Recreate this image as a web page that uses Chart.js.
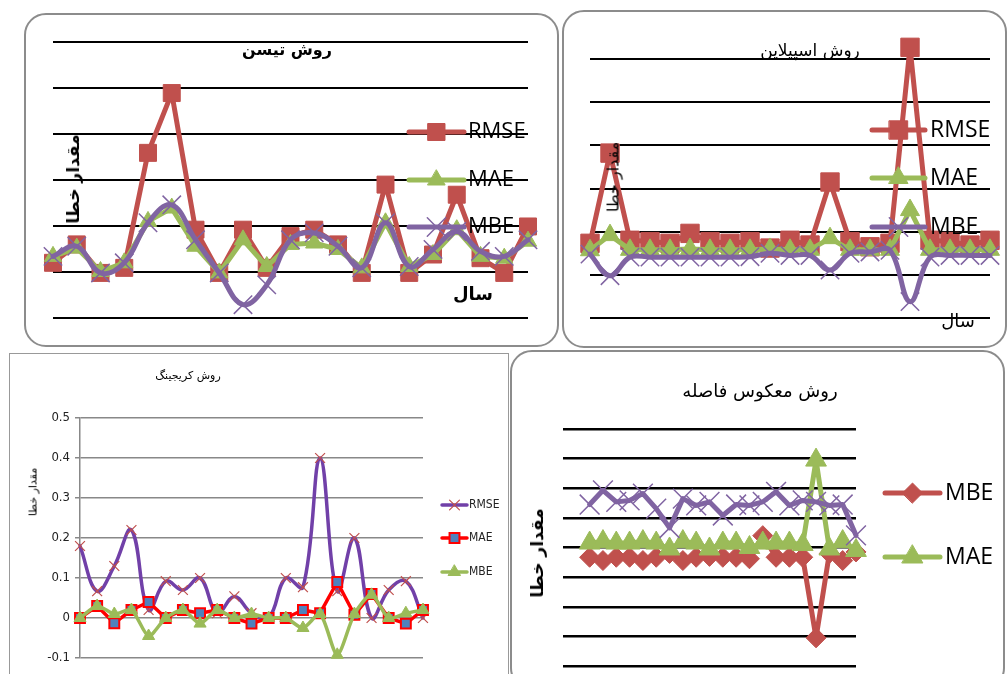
<!DOCTYPE html>
<html>
<head>
<meta charset="utf-8">
<script src="https://cdn.jsdelivr.net/npm/chart.js@4"></script>
<style>
  body { margin: 0; background: #fff; }
  #page { position: relative; width: 1008px; height: 674px; overflow: hidden; background: #fff; }
  .box { position: absolute; box-sizing: border-box; border: 2px solid #8c8c8c; border-radius: 22px; }
  canvas { position: absolute; }
  .t { position: absolute; transform: translate(-50%, -50%); white-space: nowrap; font-family: "DejaVu Sans", sans-serif; direction: rtl; color: #000; }
  .v { position: absolute; transform: translate(-50%, -50%) rotate(-90deg); white-space: nowrap; font-family: "DejaVu Sans", sans-serif; direction: rtl; color: #000; }
</style>
</head>
<body>
<div id="page">
  <div class="box" style="left:24px;top:13px;width:535px;height:334px;"></div>
  <div class="box" style="left:562px;top:10px;width:445px;height:338px;"></div>
  <div class="box" style="left:9px;top:353px;width:500px;height:340px;border-radius:0;border-width:1.5px;border-color:#999;"></div>
  <div class="box" style="left:510px;top:350px;width:495px;height:340px;"></div>

  <canvas id="c1" width="535" height="334" style="left:24px;top:13px;"></canvas>
  <canvas id="c2" width="445" height="338" style="left:562px;top:10px;"></canvas>
  <canvas id="c3" width="498" height="320" style="left:10px;top:354px;"></canvas>
  <canvas id="c4" width="493" height="323" style="left:511px;top:351px;"></canvas>

  <div class="t" style="left:287px;top:49px;font-size:16px;font-weight:bold;">روش تیسن</div>
  <div class="v" style="left:73px;top:179px;font-size:17px;font-weight:bold;">مقدار خطا</div>
  <div class="t" style="left:473px;top:293px;font-size:18px;font-weight:bold;">سال</div>

  <div class="t" style="left:810px;top:50px;font-size:17px;">روش اسپیلاین</div>
  <div class="v" style="left:613px;top:177px;font-size:16px;">مقدار خطا</div>
  <div class="t" style="left:958px;top:320px;font-size:18px;">سال</div>

  <div class="t" style="left:188px;top:375px;font-size:11px;">روش کریجینگ</div>
  <div class="v" style="left:33px;top:492px;font-size:11px;">مقدار خطا</div>

  <div class="t" style="left:760px;top:390px;font-size:18px;">روش معکوس فاصله</div>
  <div class="v" style="left:537px;top:553px;font-size:17px;font-weight:bold;">مقدار خطا</div>
</div>

<script>
// years (no tick labels are printed on the x axes)
const years = ["1", "2", "3", "4", "5", "6", "7", "8", "9", "10", "11",
  "12", "13", "14", "15", "16", "17", "18", "19", "20", "21"];

// Theisen method
const theisenRMSE = [1.2, 1.6, 0.98, 1.09, 3.59, 4.89, 1.92, 0.98, 1.92, 1.09, 1.78, 1.92, 1.6, 0.98, 2.9, 0.98, 1.38, 2.68, 1.3, 0.98, 1.99];
const theisenMAE = [1.34, 1.52, 1.01, 1.2, 2.1, 2.39, 1.56, 0.98, 1.7, 1.12, 1.6, 1.63, 1.49, 1.09, 2.07, 1.12, 1.38, 1.92, 1.34, 1.3, 1.67];
const theisenMBE = [1.34, 1.56, 0.98, 1.2, 2.07, 2.46, 1.7, 0.98, 0.29, 0.72, 1.7, 1.85, 1.56, 1.09, 2.07, 1.12, 1.49, 1.88, 1.45, 1.34, 1.7];

// Spline method
const splineRMSE = [1.73, 3.82, 1.8, 1.77, 1.73, 1.96, 1.77, 1.73, 1.77, 1.62, 1.8, 1.69, 3.15, 1.77, 1.65, 1.73, 6.27, 1.8, 1.77, 1.69, 1.8];
const splineMAE = [1.57, 1.92, 1.58, 1.58, 1.58, 1.6, 1.58, 1.58, 1.58, 1.6, 1.58, 1.58, 1.85, 1.58, 1.58, 1.58, 2.5, 1.58, 1.58, 1.58, 1.58];
const splineMBE = [1.48, 0.98, 1.41, 1.41, 1.41, 1.41, 1.41, 1.41, 1.42, 1.5, 1.45, 1.45, 1.11, 1.5, 1.53, 1.57, 0.38, 1.41, 1.45, 1.45, 1.45];

// Kriging method
const krigingRMSE = [0.18, 0.067, 0.13, 0.22, 0.02, 0.092, 0.07, 0.1, 0.012, 0.054, 0.012, 0, 0.1, 0.077, 0.4, 0.067, 0.2, 0, 0.07, 0.092, 0];
const krigingMAE = [0, 0.03, -0.013, 0.02, 0.04, 0, 0.02, 0.012, 0.02, 0, -0.014, 0, 0, 0.02, 0.012, 0.09, 0.008, 0.06, 0, -0.014, 0.02];
const krigingMBE = [0, 0.03, 0.01, 0.02, -0.045, 0, 0.02, -0.014, 0.02, 0, 0.01, 0, 0, -0.025, 0.01, -0.092, 0.01, 0.058, 0, 0.012, 0.02];
const krigingTicks = [-0.1, 0, 0.1, 0.2, 0.3, 0.4, 0.5];

// Inverse distance method (plotted from the third category)
const idwLabels = ["", "", "1", "2", "3", "4", "5", "6", "7", "8", "9", "10", "11",
  "12", "13", "14", "15", "16", "17", "18", "19", "20", "21"];
const idwMBE = [3.67, 3.56, 3.67, 3.67, 3.56, 3.67, 3.8, 3.56, 3.67, 3.7, 3.67, 3.67, 3.62, 4.4, 3.67, 3.67, 3.67, 0.95, 3.8, 3.56, 3.85];
const idwMAE = [4.15, 4.2, 4.15, 4.15, 4.2, 4.15, 3.95, 4.2, 4.15, 3.95, 4.15, 4.15, 4.0, 4.15, 4.15, 4.15, 4.1, 6.95, 3.95, 4.2, 3.9];
const idwRMSE = [5.45, 5.93, 5.54, 5.59, 5.82, 5.31, 4.66, 5.65, 5.42, 5.54, 5.08, 5.45, 5.42, 5.54, 5.88, 5.42, 5.59, 5.54, 5.42, 5.45, 4.41];

const RED = "#C0504D";
const GREEN = "#9BBB59";
const PURPLE = "#8064A2";

// draws one marker the same way Chart.js does
function drawMark(ctx, style, x, y, r, fill, stroke, bw) {
  ctx.beginPath();
  if (style === "rect") {
    const s = r * Math.SQRT1_2;
    ctx.rect(x - s, y - s, 2 * s, 2 * s);
  } else if (style === "triangle") {
    let a = 0;
    ctx.moveTo(x + Math.sin(a) * r, y - Math.cos(a) * r);
    a += 2 * Math.PI / 3;
    ctx.lineTo(x + Math.sin(a) * r, y - Math.cos(a) * r);
    a += 2 * Math.PI / 3;
    ctx.lineTo(x + Math.sin(a) * r, y - Math.cos(a) * r);
    ctx.closePath();
  } else if (style === "rectRot") {
    ctx.moveTo(x - r, y);
    ctx.lineTo(x, y - r);
    ctx.lineTo(x + r, y);
    ctx.lineTo(x, y + r);
    ctx.closePath();
  } else if (style === "crossRot") {
    const o = r * Math.SQRT1_2;
    ctx.moveTo(x - o, y - o);
    ctx.lineTo(x + o, y + o);
    ctx.moveTo(x - o, y + o);
    ctx.lineTo(x + o, y - o);
  }
  if (style !== "crossRot") {
    ctx.fillStyle = fill;
    ctx.fill();
  }
  if (bw) {
    ctx.lineWidth = bw;
    ctx.strokeStyle = stroke;
    ctx.stroke();
  }
}

// legend with a line through the marker, placed at fixed spots
function sideLegend(cfg) {
  return {
    id: "sideLegend",
    afterDraw(chart) {
      const ctx = chart.ctx;
      cfg.items.forEach((idx, i) => {
        const ds = chart.data.datasets[idx];
        const y = cfg.y[i];
        ctx.save();
        ctx.strokeStyle = ds.borderColor;
        ctx.lineWidth = cfg.lineWidth || ds.borderWidth;
        ctx.lineCap = "round";
        ctx.beginPath();
        ctx.moveTo(cfg.x0, y);
        ctx.lineTo(cfg.x1, y);
        ctx.stroke();
        drawMark(ctx, ds.pointStyle, (cfg.x0 + cfg.x1) / 2, y, cfg.r || ds.pointRadius,
          ds.pointBackgroundColor, ds.pointBorderColor, ds.pointBorderWidth);
        ctx.fillStyle = cfg.color || "#000";
        ctx.font = cfg.font;
        ctx.textAlign = "left";
        ctx.textBaseline = "middle";
        ctx.fillText(ds.label, cfg.tx, y);
        ctx.restore();
      });
    },
  };
}

function line(label, data, color, width, style, radius, extra) {
  return Object.assign({
    label: label,
    data: data,
    borderColor: color,
    backgroundColor: color,
    borderWidth: width,
    borderJoinStyle: "round",
    borderCapStyle: "round",
    pointStyle: style,
    pointRadius: radius,
    pointHoverRadius: radius,
    pointBackgroundColor: color,
    pointBorderColor: color,
    pointBorderWidth: 1,
    tension: 0,
    fill: false,
    clip: false,
    spanGaps: false,
  }, extra || {});
}

// plain plot: hidden x axis, black grid lines, no tick labels
function plainOptions(min, max, pad, gridWidth) {
  return {
    responsive: false,
    animation: false,
    events: [],
    layout: { padding: pad, autoPadding: false },
    plugins: { legend: { display: false }, tooltip: { enabled: false } },
    scales: {
      x: { display: false },
      y: {
        min: min,
        max: max,
        ticks: { display: false, stepSize: 1 },
        border: { display: false },
        grid: { color: "#000", lineWidth: gridWidth, drawTicks: false },
      },
    },
  };
}

// Theisen
new Chart(document.getElementById("c1"), {
  type: "line",
  data: {
    labels: years,
    datasets: [
      line("RMSE", theisenRMSE, RED, 5, "rect", 12, { order: 3 }),
      line("MAE", theisenMAE, GREEN, 5, "triangle", 10, { order: 2 }),
      line("MBE", theisenMBE, PURPLE, 5, "crossRot", 13, { order: 1, tension: 0.4, pointBorderWidth: 1.5 }),
    ],
  },
  options: plainOptions(0, 6, { left: 29, right: 31, top: 29, bottom: 29 }, 2),
  plugins: [sideLegend({ items: [0, 1, 2], y: [119, 167, 214], x0: 385, x1: 440, tx: 444, font: "22px 'Open Sans'" })],
});

// Spline
new Chart(document.getElementById("c2"), {
  type: "line",
  data: {
    labels: years,
    datasets: [
      line("RMSE", splineRMSE, RED, 5, "rect", 13, { order: 3 }),
      line("MAE", splineMAE, GREEN, 5, "triangle", 11, { order: 2 }),
      line("MBE", splineMBE, PURPLE, 5, "crossRot", 13, { order: 1, tension: 0.4, pointBorderWidth: 1.5 }),
    ],
  },
  options: plainOptions(0, 6, { left: 28, right: 17, top: 49, bottom: 30 }, 2),
  plugins: [sideLegend({ items: [0, 1, 2], y: [120, 168, 217], x0: 310, x1: 363, tx: 368, font: "23px 'Open Sans'" })],
});

// Kriging
new Chart(document.getElementById("c3"), {
  type: "line",
  data: {
    labels: years,
    datasets: [
      line("RMSE", krigingRMSE, "#7140A8", 3.5, "crossRot", 7, { order: 3, tension: 0.4, pointBorderColor: RED, pointBorderWidth: 1.2 }),
      line("MAE", krigingMAE, "#FF0000", 3.5, "rect", 7, { order: 2, pointBackgroundColor: "#4F81BD", pointBorderColor: "#FF0000", pointBorderWidth: 2 }),
      line("MBE", krigingMBE, GREEN, 3.5, "triangle", 7, { order: 1, tension: 0.25 }),
    ],
  },
  options: {
    responsive: false,
    animation: false,
    events: [],
    layout: { padding: { left: 0, right: 85, top: 64, bottom: 16 }, autoPadding: false },
    plugins: { legend: { display: false }, tooltip: { enabled: false } },
    scales: {
      x: { display: false },
      y: {
        min: krigingTicks[0],
        max: krigingTicks[krigingTicks.length - 1],
        afterBuildTicks: (scale) => {
          scale.ticks = krigingTicks.map((v) => ({ value: v }));
        },
        afterFit: (scale) => {
          scale.width = 70;
        },
        ticks: {
          padding: 5,
          color: "#222",
          font: { family: "'Liberation Sans Narrow', 'DejaVu Sans Condensed', sans-serif", size: 13 },
          callback: (v) => String(+v.toFixed(1)),
        },
        border: { display: true, color: "#888", width: 1.5 },
        grid: { color: "#888", lineWidth: 1.5, drawTicks: true, tickLength: 5 },
      },
    },
  },
  plugins: [sideLegend({ items: [0, 1, 2], y: [151, 184, 218], x0: 432, x1: 457, tx: 459, lineWidth: 3.5,
    color: "#222", font: "12px 'Liberation Sans Narrow', 'DejaVu Sans Condensed', sans-serif" })],
});

// Inverse distance
new Chart(document.getElementById("c4"), {
  type: "line",
  data: {
    labels: idwLabels,
    datasets: [
      line("MBE", [null, null].concat(idwMBE), RED, 5, "rectRot", 10, { order: 3 }),
      line("MAE", [null, null].concat(idwMAE), GREEN, 5, "triangle", 12, { order: 2 }),
      line("RMSE", [null, null].concat(idwRMSE), PURPLE, 5, "crossRot", 14, { order: 1, pointBorderWidth: 1.5 }),
    ],
  },
  options: plainOptions(0, 8, { left: 52, right: 148, top: 78, bottom: 8 }, 2.5),
  plugins: [sideLegend({ items: [0, 1], y: [142, 206], x0: 374, x1: 429, tx: 434, font: "23px 'Open Sans'" })],
});
</script>
</body>
</html>
